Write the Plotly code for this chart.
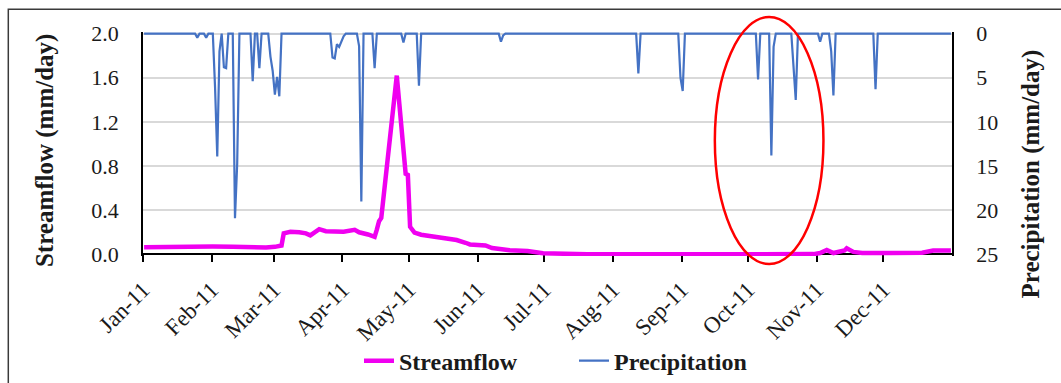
import pandas as pd
import plotly.graph_objects as go

# Daily streamflow (mm/day), 2011
flow_dates = [
    "2011-01-01", "2011-01-10", "2011-01-20", "2011-02-01", "2011-02-10",
    "2011-02-18", "2011-02-25", "2011-03-01", "2011-03-03", "2011-03-04",
    "2011-03-05", "2011-03-08", "2011-03-12", "2011-03-15", "2011-03-17",
    "2011-03-19", "2011-03-21", "2011-03-24", "2011-03-28", "2011-04-01",
    "2011-04-06", "2011-04-08", "2011-04-12", "2011-04-15", "2011-04-16",
    "2011-04-17", "2011-04-18", "2011-04-25", "2011-04-29", "2011-04-30",
    "2011-05-01", "2011-05-03", "2011-05-06", "2011-05-09", "2011-05-12",
    "2011-05-16", "2011-05-22", "2011-05-26", "2011-05-28", "2011-06-04",
    "2011-06-07", "2011-06-15", "2011-06-23", "2011-06-30", "2011-07-08",
    "2011-07-20", "2011-10-30", "2011-11-02", "2011-11-05", "2011-11-08",
    "2011-11-13", "2011-11-14", "2011-11-17", "2011-11-21", "2011-12-04",
    "2011-12-18", "2011-12-23", "2011-12-31",
]
flow_values = [
    0.065, 0.068, 0.068, 0.070, 0.068,
    0.062, 0.062, 0.068, 0.075, 0.080,
    0.190, 0.205, 0.200, 0.190, 0.172,
    0.200, 0.228, 0.210, 0.205, 0.205,
    0.222, 0.200, 0.180, 0.158, 0.225,
    0.300, 0.330, 1.620, 0.730, 0.720,
    0.250, 0.197, 0.178, 0.170, 0.158,
    0.142, 0.130, 0.105, 0.090, 0.080,
    0.057, 0.038, 0.030, 0.010, 0.004,
    0.000, 0.002, 0.012, 0.040, 0.012,
    0.035, 0.055, 0.022, 0.012, 0.012,
    0.015, 0.035, 0.035,
]

# Daily precipitation (mm/day), 2011 - rain days with the dry days around them
precip_dates = [
    "2011-01-01", "2011-01-24", "2011-01-25", "2011-01-26", "2011-01-28",
    "2011-01-29", "2011-01-30", "2011-02-01", "2011-02-02", "2011-02-03",
    "2011-02-04", "2011-02-05", "2011-02-06", "2011-02-07", "2011-02-08",
    "2011-02-10", "2011-02-11", "2011-02-12", "2011-02-13", "2011-02-18",
    "2011-02-19", "2011-02-20", "2011-02-21", "2011-02-22", "2011-02-23",
    "2011-02-26", "2011-02-27", "2011-02-28", "2011-03-01", "2011-03-02",
    "2011-03-03", "2011-03-04", "2011-03-26", "2011-03-27", "2011-03-28",
    "2011-03-29", "2011-03-30", "2011-03-31", "2011-04-01", "2011-04-02",
    "2011-04-07", "2011-04-08", "2011-04-09", "2011-04-10", "2011-04-14",
    "2011-04-15", "2011-04-16", "2011-04-27", "2011-04-28", "2011-04-29",
    "2011-05-04", "2011-05-05", "2011-05-06", "2011-06-10", "2011-06-11",
    "2011-06-12", "2011-06-13", "2011-08-11", "2011-08-12", "2011-08-13",
    "2011-08-30", "2011-08-31", "2011-09-01", "2011-09-02", "2011-10-04",
    "2011-10-05", "2011-10-06", "2011-10-10", "2011-10-11", "2011-10-12",
    "2011-10-13", "2011-10-20", "2011-10-21", "2011-10-22", "2011-10-23",
    "2011-11-01", "2011-11-02", "2011-11-03", "2011-11-06", "2011-11-07",
    "2011-11-08", "2011-11-09", "2011-11-26", "2011-11-27", "2011-11-28",
    "2011-12-31",
]
precip_values = [
    0.0, 0.0, 0.45, 0.0, 0.0,
    0.45, 0.0, 0.0, 6.0, 13.9,
    2.0, 0.0, 3.8, 3.9, 0.0,
    0.0, 20.9, 14.7, 0.0, 0.0,
    5.4, 0.0, 0.0, 3.9, 0.0,
    0.0, 2.6, 4.2, 6.9, 4.9,
    7.1, 0.0, 0.0, 2.7, 2.8,
    1.2, 1.5, 0.8, 0.3, 0.0,
    0.0, 1.4, 19.0, 0.0, 0.0,
    3.9, 0.0, 0.0, 1.0, 0.0,
    0.0, 5.9, 0.0, 0.0, 0.9,
    0.2, 0.0, 0.0, 4.5, 0.0,
    0.0, 5.0, 6.5, 0.0, 0.0,
    5.2, 0.0, 0.0, 13.8, 1.5,
    0.0, 0.0, 3.8, 7.5, 0.0,
    0.0, 0.9, 0.0, 0.0, 2.0,
    7.0, 0.0, 0.0, 6.3, 0.0,
    0.0,
]

# Month ticks
month_ticks = [
    "2011-01-01", "2011-02-01", "2011-03-01", "2011-04-01", "2011-05-01",
    "2011-06-01", "2011-07-01", "2011-08-01", "2011-09-01", "2011-10-01",
    "2011-11-01", "2011-12-01",
]
month_labels = [
    "Jan-11", "Feb-11", "Mar-11", "Apr-11", "May-11", "Jun-11",
    "Jul-11", "Aug-11", "Sep-11", "Oct-11", "Nov-11", "Dec-11",
]
flow_ticks = [0.0, 0.4, 0.8, 1.2, 1.6, 2.0]
precip_ticks = [0, 5, 10, 15, 20, 25]

# Highlighted period (October events); vertical extent in paper units
HIGHLIGHT_START = "2011-09-16"
HIGHLIGHT_END = "2011-11-04"
HIGHLIGHT_BOTTOM = -0.036
HIGHLIGHT_TOP = 1.067

FLOW_MAX = 2.0
PRECIP_MAX = 25.0
PAD = 0.015  # small headroom so lines lying on the frame are not clipped
RATIO = PRECIP_MAX / FLOW_MAX

SERIF = "Liberation Serif"
INK = "#1a1a1a"
MAGENTA = "#F000F0"
BLUE = "#4472C4"

# each daily value sits in the middle of its day
half_day = pd.Timedelta(hours=12)
flow_x = pd.to_datetime(flow_dates) + half_day
precip_x = pd.to_datetime(precip_dates) + half_day

fig = go.Figure()
fig.add_trace(go.Scatter(
    x=flow_x, y=flow_values, name="Streamflow", mode="lines",
    line=dict(color=MAGENTA, width=4.5), yaxis="y",
))
fig.add_trace(go.Scatter(
    x=precip_x, y=precip_values, name="Precipitation", mode="lines",
    line=dict(color=BLUE, width=2.2), yaxis="y2",
))

fig.update_layout(
    width=1061, height=383,
    margin=dict(l=143, r=109, t=32, b=127, autoexpand=False),
    paper_bgcolor="white", plot_bgcolor="white",
    font=dict(family=SERIF, color=INK),
    xaxis=dict(
        type="date",
        range=["2011-01-01", "2012-01-01"],
        tickvals=month_ticks, ticktext=month_labels,
        tickangle=-45, tickfont=dict(size=23, family=SERIF, color=INK),
        ticks="outside", ticklen=7, tickwidth=1.5, tickcolor="#000",
        ticklabelstandoff=5,
        showline=True, linecolor="#000", linewidth=1.5,
        showgrid=False, zeroline=False, automargin=False,
        anchor="free", position=PAD / (FLOW_MAX + 2 * PAD),
        layer="below traces",
    ),
    yaxis=dict(
        range=[-PAD, FLOW_MAX + PAD],
        tickvals=flow_ticks, tickformat=".1f",
        tickfont=dict(size=22, family=SERIF, color=INK),
        showgrid=True, gridcolor="#d9d9d9", gridwidth=1.5,
        zeroline=False, showline=True, linecolor="#000", linewidth=1.5,
        ticks="", ticklabelstandoff=18, automargin=False,
    ),
    yaxis2=dict(
        overlaying="y", side="right",
        range=[PRECIP_MAX + RATIO * PAD, -RATIO * PAD],
        tickvals=precip_ticks,
        tickfont=dict(size=22, family=SERIF, color=INK),
        showgrid=False, zeroline=False,
        showline=True, linecolor="#000", linewidth=1.5,
        ticks="", ticklabelstandoff=18, automargin=False,
    ),
    legend=dict(
        orientation="h", x=0.267, xanchor="left", y=-0.469, yanchor="middle",
        font=dict(size=24, family=SERIF, color=INK, weight="bold"),
        entrywidthmode="pixels", entrywidth=170,
        bgcolor="rgba(0,0,0,0)",
    ),
    showlegend=True,
)

# Axis titles
fig.add_annotation(
    text="Streamflow (mm/day)", textangle=-90,
    xref="paper", yref="paper", x=-0.1211, y=0.473,
    xanchor="center", yanchor="middle", showarrow=False,
    font=dict(size=25, family=SERIF, color=INK, weight="bold"),
)
fig.add_annotation(
    text="Precipitation (mm/day)", textangle=-90,
    xref="paper", yref="paper", x=1.0977, y=0.364,
    xanchor="center", yanchor="middle", showarrow=False,
    font=dict(size=25, family=SERIF, color=INK, weight="bold"),
)

# Highlight ellipse around the October rain events
fig.add_shape(
    type="circle", xref="x", yref="paper",
    x0=HIGHLIGHT_START, x1=HIGHLIGHT_END,
    y0=HIGHLIGHT_BOTTOM, y1=HIGHLIGHT_TOP,
    line=dict(color="#ff0000", width=2.5),
)

# Chart frame
fig.add_shape(
    type="rect", xref="paper", yref="paper",
    x0=-0.1665, x1=1.2, y0=-0.7, y1=1.1013,
    line=dict(color="#3a3a3a", width=1.5),
)

fig.write_html("out.html")
